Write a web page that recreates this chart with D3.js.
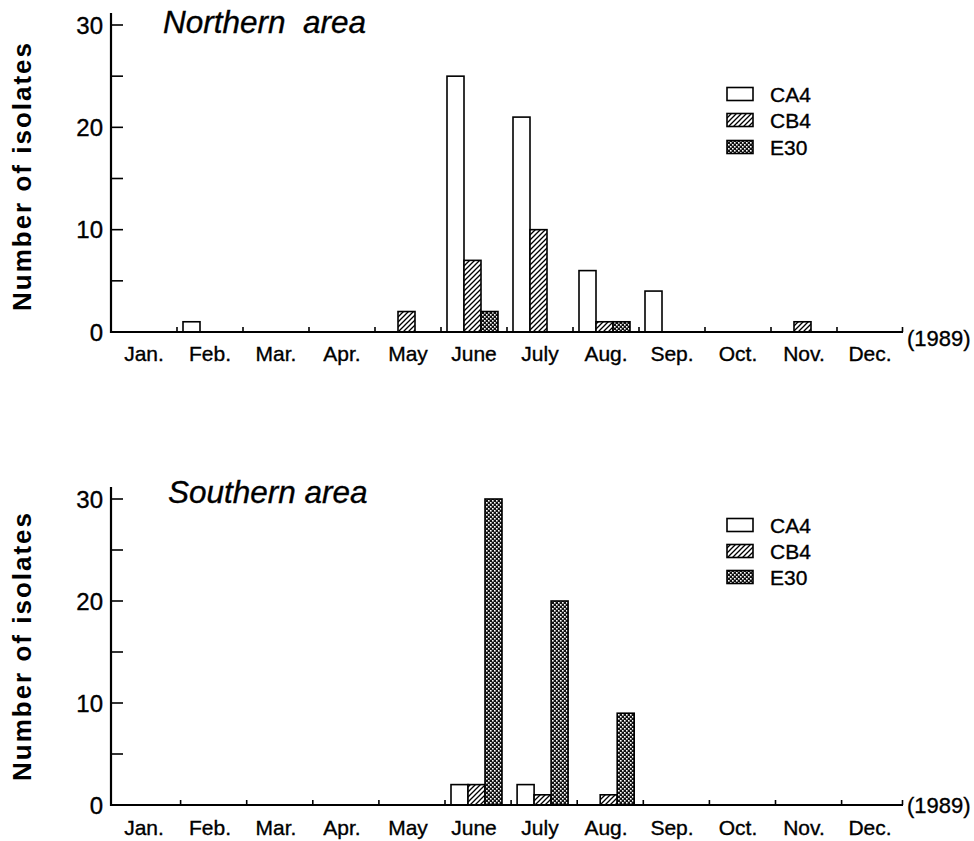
<!DOCTYPE html>
<html>
<head>
<meta charset="utf-8">
<script src="https://cdn.jsdelivr.net/npm/d3@7"></script>
<style>
  html, body { margin: 0; padding: 0; background: #fff; }
  svg { display: block; }
  text { font-family: "Liberation Sans", Arial, sans-serif; fill: #000; stroke: #000; stroke-width: 0.35px; }
</style>
</head>
<body>
<svg id="chart" width="974" height="841"></svg>
<script>
// ---- data ----
const months = ["Jan.", "Feb.", "Mar.", "Apr.", "May", "June", "July", "Aug.", "Sep.", "Oct.", "Nov.", "Dec."];
const seriesNames = ["CA4", "CB4", "E30"];
const yTickValues = [0, 10, 20, 30];
const yMinorTicks = [0, 5, 10, 15, 20, 25, 30];
const yearLabel = "(1989)";
const yAxisTitle = "Number of isolates";

const northCA4 = [0, 1, 0, 0, 0, 25, 21, 6, 4, 0, 0, 0];
const northCB4 = [0, 0, 0, 0, 2, 7, 10, 1, 0, 0, 1, 0];
const northE30 = [0, 0, 0, 0, 0, 2, 0, 1, 0, 0, 0, 0];

const southCA4 = [0, 0, 0, 0, 0, 2, 2, 0, 0, 0, 0, 0];
const southCB4 = [0, 0, 0, 0, 0, 2, 1, 1, 0, 0, 0, 0];
const southE30 = [0, 0, 0, 0, 0, 30, 20, 9, 0, 0, 0, 0];

// ---- layout ----
const svg = d3.select("#chart");
const defs = svg.append("defs");

// CB4 : diagonal hatching
const hatch = defs.append("pattern").attr("id", "hatch")
  .attr("patternUnits", "userSpaceOnUse").attr("width", 5).attr("height", 5);
hatch.append("rect").attr("width", 5).attr("height", 5).attr("fill", "#fff");
hatch.append("path").attr("d", "M0,5 L5,0 M-1,1 L1,-1 M4,6 L6,4")
  .attr("stroke", "#000").attr("stroke-width", 1.3);

// E30 : dense checker
const checker = defs.append("pattern").attr("id", "checker")
  .attr("patternUnits", "userSpaceOnUse").attr("width", 4).attr("height", 4);
checker.append("rect").attr("width", 4).attr("height", 4).attr("fill", "#111");
checker.append("rect").attr("x", 0).attr("y", 0).attr("width", 1.6).attr("height", 1.6).attr("fill", "#fff");
checker.append("rect").attr("x", 2).attr("y", 2).attr("width", 1.6).attr("height", 1.6).attr("fill", "#fff");

const fills = { CA4: "#fff", CB4: "url(#hatch)", E30: "url(#checker)" };

const panels = [
  { title: "Northern  area", data: [northCA4, northCB4, northE30],
    y0: 332, y30: 25, bandStart: 111, bandEnd: 903,
    titleX: 163, titleY: 33, legendY: [94, 120, 147],
    labelBase: 361, yearBase: 346, yTitleCy: 176 },
  { title: "Southern area", data: [southCA4, southCB4, southE30],
    y0: 805, y30: 499, bandStart: 114.5, bandEnd: 907.7,
    titleX: 168, titleY: 503, legendY: [525, 551, 577],
    labelBase: 835, yearBase: 813, yTitleCy: 646 }
];

const axisX = 111, axisEnd = 903;

panels.forEach(p => {
  const g = svg.append("g");
  const y = d3.scaleLinear().domain([0, 30]).range([p.y0, p.y30]);
  const xLab = d3.scaleBand().domain(months).range([axisX, axisEnd]);
  const xBar = d3.scaleBand().domain(months).range([p.bandStart, p.bandEnd]);
  const xSer = d3.scaleBand().domain(seriesNames).range([6, 6 + 17 * 3]);

  // bars
  seriesNames.forEach((s, si) => {
    const vals = p.data[si];
    const rows = months.map((m, i) => ({ m, v: vals[i] })).filter(d => d.v > 0);
    g.selectAll(null).data(rows).enter().append("rect")
      .attr("x", d => xBar(d.m) + xSer(s))
      .attr("y", d => y(d.v))
      .attr("width", xSer.bandwidth())
      .attr("height", d => y(0) - y(d.v))
      .attr("fill", fills[s])
      .attr("stroke", "#000")
      .attr("stroke-width", 1.6);
  });

  // x axis line
  g.append("line").attr("x1", axisX).attr("x2", axisEnd)
    .attr("y1", y(0)).attr("y2", y(0))
    .attr("stroke", "#000").attr("stroke-width", 2.2);
  // boundary ticks (upward)
  g.selectAll(null).data(months.slice(1)).enter().append("line")
    .attr("x1", d => xBar(d)).attr("x2", d => xBar(d))
    .attr("y1", y(0)).attr("y2", y(0) - 5)
    .attr("stroke", "#000").attr("stroke-width", 1.6);
  g.append("line").attr("x1", axisEnd - 0.5).attr("x2", axisEnd - 0.5)
    .attr("y1", y(0)).attr("y2", y(0) - 5)
    .attr("stroke", "#000").attr("stroke-width", 1.6);

  // month labels
  g.selectAll(null).data(months).enter().append("text")
    .attr("x", d => xLab(d) + xLab.bandwidth() / 2)
    .attr("y", p.labelBase)
    .attr("text-anchor", "middle")
    .attr("font-size", 21)
    .text(d => d);

  g.append("text").attr("x", 907).attr("y", p.yearBase)
    .attr("font-size", 22).text(yearLabel);

  // y axis line
  g.append("line").attr("x1", axisX).attr("x2", axisX)
    .attr("y1", y(0) + 1).attr("y2", y(30) - 12)
    .attr("stroke", "#000").attr("stroke-width", 2.2);
  g.selectAll(null).data(yMinorTicks).enter().append("line")
    .attr("x1", axisX).attr("x2", axisX + 12)
    .attr("y1", d => y(d)).attr("y2", d => y(d))
    .attr("stroke", "#000").attr("stroke-width", 1.6);
  g.selectAll(null).data(yTickValues).enter().append("text")
    .attr("x", 103).attr("y", d => y(d))
    .attr("dy", "0.36em")
    .attr("text-anchor", "end")
    .attr("font-size", 24)
    .text(d => d);

  // y title
  g.append("text")
    .attr("transform", `translate(31,${p.yTitleCy}) rotate(-90)`)
    .attr("text-anchor", "middle")
    .attr("font-size", 26)
    .attr("font-weight", "bold")
    .attr("letter-spacing", 2)
    .style("stroke-width", "0px")
    .text(yAxisTitle);

  // panel title
  g.append("text").attr("x", p.titleX).attr("y", p.titleY)
    .attr("font-size", 31.5).attr("font-style", "italic")
    .style("white-space", "pre")
    .attr("xml:space", "preserve")
    .text(p.title);

  // legend
  seriesNames.forEach((s, si) => {
    const cy = p.legendY[si];
    g.append("rect").attr("x", 727).attr("y", cy - 6.5)
      .attr("width", 26).attr("height", 13)
      .attr("fill", fills[s]).attr("stroke", "#000").attr("stroke-width", 1.6);
    g.append("text").attr("x", 770).attr("y", cy).attr("dy", "0.36em")
      .attr("font-size", 21).text(s);
  });
});
</script>
</body>
</html>
